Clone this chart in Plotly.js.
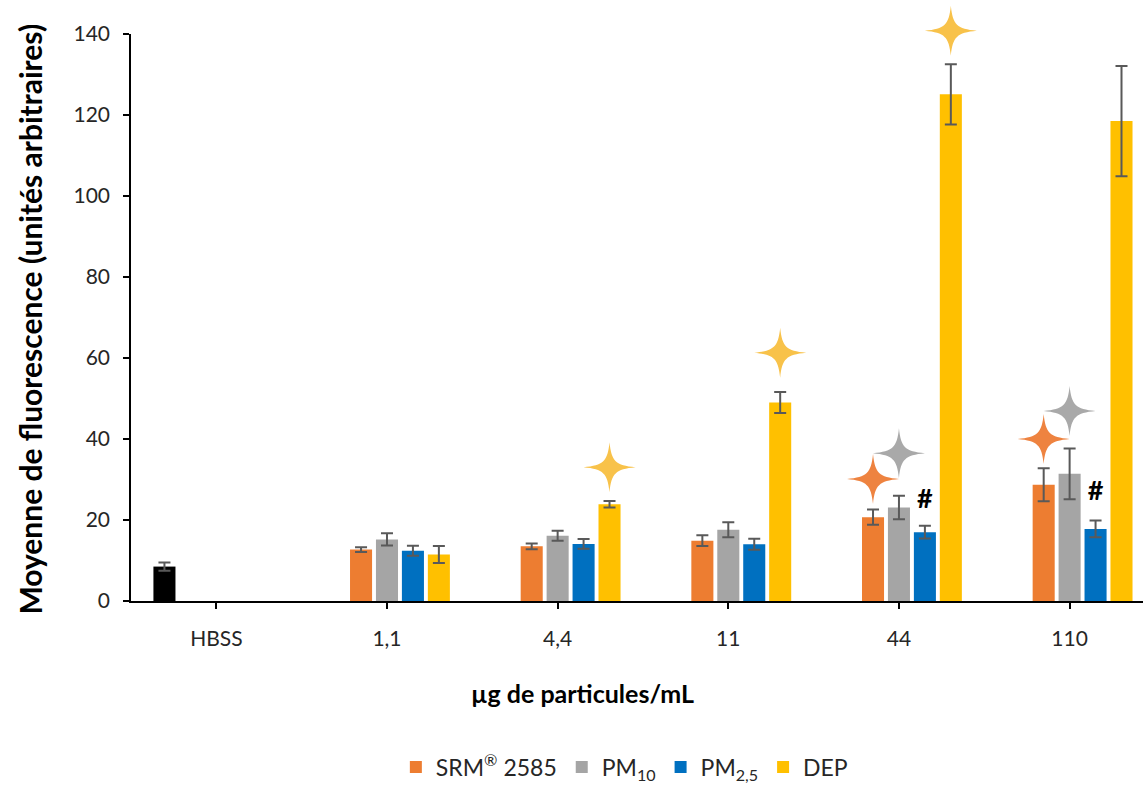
<!DOCTYPE html>
<html><head><meta charset="utf-8">
<script src="https://cdn.plot.ly/plotly-3.0.1.min.js"></script>
<style>html,body{margin:0;padding:0;background:#fff}</style>
</head><body><div id="chart" style="width:1143px;height:789px"></div>
<script>
// ---- data ----
const categories = ['HBSS', '1,1', '4,4', '11', '44', '110'];
const hbssMean = [8.5, null, null, null, null, null];
const hbssErr  = [1.0, null, null, null, null, null];
const srmMean  = [null, 12.7, 13.5, 14.9, 20.7, 28.7];
const srmErr   = [null, 0.6, 0.7, 1.35, 1.9, 4.05];
const pm10Mean = [null, 15.2, 16.1, 17.6, 23.1, 31.4];
const pm10Err  = [null, 1.5, 1.25, 1.85, 2.9, 6.25];
const pm25Mean = [null, 12.4, 14.1, 14.0, 17.0, 17.8];
const pm25Err  = [null, 1.25, 1.2, 1.35, 1.55, 2.05];
const depMean  = [null, 11.5, 23.9, 49.0, 125.1, 118.5];
const depErr   = [null, 2.1, 0.8, 2.6, 7.45, 13.6];
// significance marks (height of symbol centre, y units)
const srmStar  = [null, null, null, null, 30.1, 40.0];
const pm10Star = [null, null, null, null, 36.5, 46.9];
const depStar  = [null, null, 33.0, 61.3, 140.8, null];
const pm25Hash = [null, null, null, null, 24.7, 26.5];

const seriesNames = ['HBSS', 'SRM<sup>®</sup> 2585', 'PM<sub>10</sub>', 'PM<sub>2,5</sub>', 'DEP'];
const colors = ['#000000', '#ED7D31', '#A5A5A5', '#0070C0', '#FFC000'];
const starColors = {1: '#EE8340', 2: '#A9A9A9', 4: '#F8C24A'};

const FONT = 'Lato, "Open Sans", sans-serif';
const Y_RANGE = [0, 140];
const X_RANGE = [-0.5, 5.43];
const idx = categories.map((c, i) => i);
const BARGAP = 0.24, NSLOT = 5;
const slotW = (1 - BARGAP) / NSLOT;
const slotPos = (k, i) => i + (k - (NSLOT - 1) / 2) * slotW;

const means = [hbssMean, srmMean, pm10Mean, pm25Mean, depMean];
const errs = [hbssErr, srmErr, pm10Err, pm25Err, depErr];

const traces = means.map((m, k) => ({
  type: 'bar', x: idx, y: m, name: seriesNames[k],
  showlegend: k > 0,
  marker: {color: colors[k]},
  error_y: {type: 'data', array: errs[k], visible: true, color: '#595959', thickness: 2, width: 6},
  hoverinfo: 'y'
}));

const present = arr => idx.filter(i => arr[i] != null);

// 4-point star symbol (pixel units, relative to its anchor)
const RX = 26, RY = 25, A = 6, B = 2;
const starPath =
  `M ${RX},0 C ${A},${B} ${B},${A} 0,${RY} ` +
  `C ${-B},${A} ${-A},${B} ${-RX},0 ` +
  `C ${-A},${-B} ${-B},${-A} 0,${-RY} ` +
  `C ${B},${-A} ${A},${-B} ${RX},0 Z`;
const toPaperY = v => (v - Y_RANGE[0]) / (Y_RANGE[1] - Y_RANGE[0]);

const shapes = [];
[[1, srmStar], [2, pm10Star], [4, depStar]].forEach(([k, arr]) => {
  present(arr).forEach(i => {
    shapes.push({
      type: 'path', xref: 'x', yref: 'paper', xsizemode: 'pixel', ysizemode: 'pixel',
      xanchor: slotPos(k, i), yanchor: toPaperY(arr[i]), path: starPath,
      fillcolor: starColors[k], line: {width: 0}, layer: 'above'
    });
  });
});

const hi = present(pm25Hash);
traces.push({
  type: 'scatter', mode: 'text', x: hi.map(i => slotPos(3, i)), y: hi.map(i => pm25Hash[i]),
  text: hi.map(() => '#'),
  textposition: 'middle center', showlegend: false, cliponaxis: false, hoverinfo: 'skip',
  textfont: {family: FONT, size: 27, color: '#000', weight: 'bold'}
});

const layout = {
  width: 1143, height: 789,
  margin: {l: 130.6, r: 0, t: 33.5, b: 182},
  paper_bgcolor: '#fff', plot_bgcolor: '#fff',
  barmode: 'group', bargap: BARGAP, bargroupgap: 0.15,
  font: {family: FONT, color: '#262626'},
  xaxis: {
    type: 'linear', range: X_RANGE, tickvals: idx, ticktext: categories,
    showline: true, linecolor: '#000', linewidth: 1.5, ticks: 'outside', ticklen: 6, tickwidth: 1.5,
    tickcolor: '#000', showgrid: false, zeroline: false, ticklabelstandoff: 12,
    tickfont: {family: FONT, size: 21, color: '#262626'}
  },
  yaxis: {
    range: Y_RANGE, dtick: 20, showline: true, linecolor: '#000', linewidth: 1.5,
    ticks: 'outside', ticklen: 6, tickwidth: 1.5, tickcolor: '#000', showgrid: false, zeroline: false,
    ticklabelstandoff: 9, tickfont: {family: FONT, size: 21, color: '#262626'}
  },
  legend: {
    orientation: 'h', x: 0.488, xanchor: 'center', y: -0.293, yanchor: 'middle',
    font: {family: FONT, size: 23, color: '#262626'}, bgcolor: 'rgba(0,0,0,0)'
  },
  shapes: shapes,
  annotations: [
    {text: 'Moyenne de fluorescence (unités arbitraires)', xref: 'paper', yref: 'paper',
     x: -0.0994, y: 0.497, textangle: -90, showarrow: false, xanchor: 'center', yanchor: 'middle',
     font: {family: FONT, size: 30, color: '#000', weight: 'bold'}},
    {text: 'µg de particules/mL', xref: 'paper', yref: 'paper',
     x: 0.446, y: -0.162, showarrow: false, xanchor: 'center', yanchor: 'middle',
     font: {family: FONT, size: 25, color: '#000', weight: 'bold'}}
  ]
};

Plotly.newPlot('chart', traces, layout, {displayModeBar: false, responsive: false});
</script></body></html>
